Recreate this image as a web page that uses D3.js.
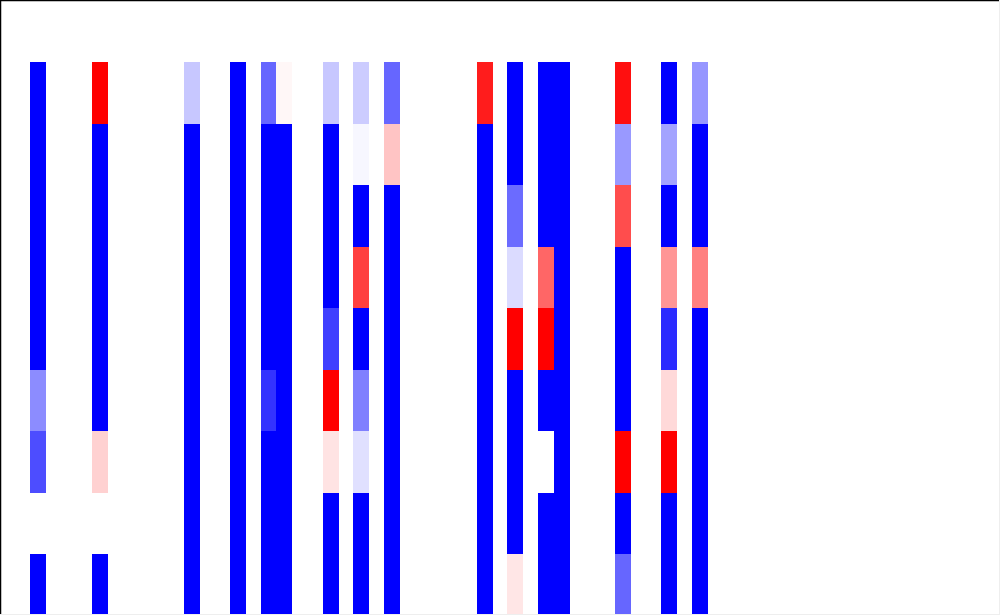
<!DOCTYPE html>
<html>
<head>
<meta charset="utf-8">
<script src="https://cdn.jsdelivr.net/npm/d3@7"></script>
<style>
  body { margin: 0; background: #fff; overflow: hidden; }
  svg { display: block; }
</style>
</head>
<body>
<svg width="1000" height="615"></svg>
<script>
// column slots across the grid, only some of them hold data
const columnKeys = d3.range(60).map(i => 'C' + (i + 1));
const rowKeys = ['R1', 'R2', 'R3', 'R4', 'R5', 'R6', 'R7', 'R8', 'R9'];

// the columns that have values (others are empty)
const filledColumns = ['C1', 'C5', 'C11', 'C14', 'C16', 'C17', 'C20', 'C22', 'C24',
  'C30', 'C32', 'C34', 'C35', 'C39', 'C42', 'C44'];

// one list of 9 row values per filled column, -1 = blue, 1 = red
const c1  = [-1, -1, -1, -1, -1, -0.45, -0.7, 0, -1];
const c5  = [1, -1, -1, -1, -1, -1, 0.18, 0, -1];
const c11 = [-0.22, -1, -1, -1, -1, -1, -1, -1, -1];
const c14 = [-1, -1, -1, -1, -1, -1, -1, -1, -1];
const c16 = [-0.6, -1, -1, -1, -1, -0.8, -1, -1, -1];
const c17 = [0.03, -1, -1, -1, -1, -1, -1, -1, -1];
const c20 = [-0.22, -1, -1, -1, -0.75, 1, 0.11, -1, -1];
const c22 = [-0.2, -0.03, -1, 0.75, -1, -0.5, -0.12, -1, -1];
const c24 = [-0.6, 0.23, -1, -1, -1, -1, -1, -1, -1];
const c30 = [0.89, -1, -1, -1, -1, -1, -1, -1, -1];
const c32 = [-1, -1, -0.58, -0.14, 1, -1, -1, -1, 0.1];
const c34 = [-1, -1, -1, 0.6, 1, -1, 0, -1, -1];
const c35 = [-1, -1, -1, -1, -1, -1, -1, -1, -1];
const c39 = [0.94, -0.4, 0.7, -1, -1, -1, 1, -1, -0.6];
const c42 = [-1, -0.36, -1, 0.41, -0.83, 0.15, 1, -1, -1];
const c44 = [-0.41, -1, -1, 0.5, -1, -1, -1, -1, -1];

const columnValues = [c1, c5, c11, c14, c16, c17, c20, c22, c24,
  c30, c32, c34, c35, c39, c42, c44];

const svg = d3.select('svg');
const width = +svg.attr('width');
const height = +svg.attr('height');

const gridLeft = 30;
const gridTop = 62;
const cellW = 15.4;
const cellH = 61.5;

const x = d3.scaleBand()
    .domain(columnKeys)
    .range([gridLeft, gridLeft + columnKeys.length * cellW]);

const y = d3.scaleBand()
    .domain(rowKeys)
    .range([gridTop, gridTop + rowKeys.length * cellH]);

const color = d3.scaleLinear()
    .domain([-1, 0, 1])
    .range(['#0000ff', '#ffffff', '#ff0000'])
    .clamp(true);

// flatten to cells
const cells = [];
filledColumns.forEach((col, i) => {
  columnValues[i].forEach((v, j) => {
    cells.push({ col: col, row: rowKeys[j], value: v });
  });
});

svg.append('g')
    .attr('shape-rendering', 'crispEdges')
  .selectAll('rect')
  .data(cells)
  .join('rect')
    .attr('x', d => x(d.col))
    .attr('y', d => y(d.row))
    .attr('width', x.bandwidth() + 0.5)
    .attr('height', y.bandwidth() + 0.5)
    .attr('fill', d => color(d.value));

//frame lines
svg.append('line').attr('x1', 0).attr('y1', 0.5).attr('x2', width).attr('y2', 0.5)
    .attr('stroke', 'black').attr('stroke-width', 1.5);
svg.append('line').attr('x1', 0.5).attr('y1', 0).attr('x2', 0.5).attr('y2', height)
    .attr('stroke', 'black').attr('stroke-width', 1.5);
svg.append('line').attr('x1', width - 0.5).attr('y1', 0).attr('x2', width - 0.5).attr('y2', height)
    .attr('stroke', '#eeeeee');
svg.append('line').attr('x1', 0).attr('y1', height - 0.5).attr('x2', width).attr('y2', height - 0.5)
    .attr('stroke', '#eeeeee');
</script>
</body>
</html>
